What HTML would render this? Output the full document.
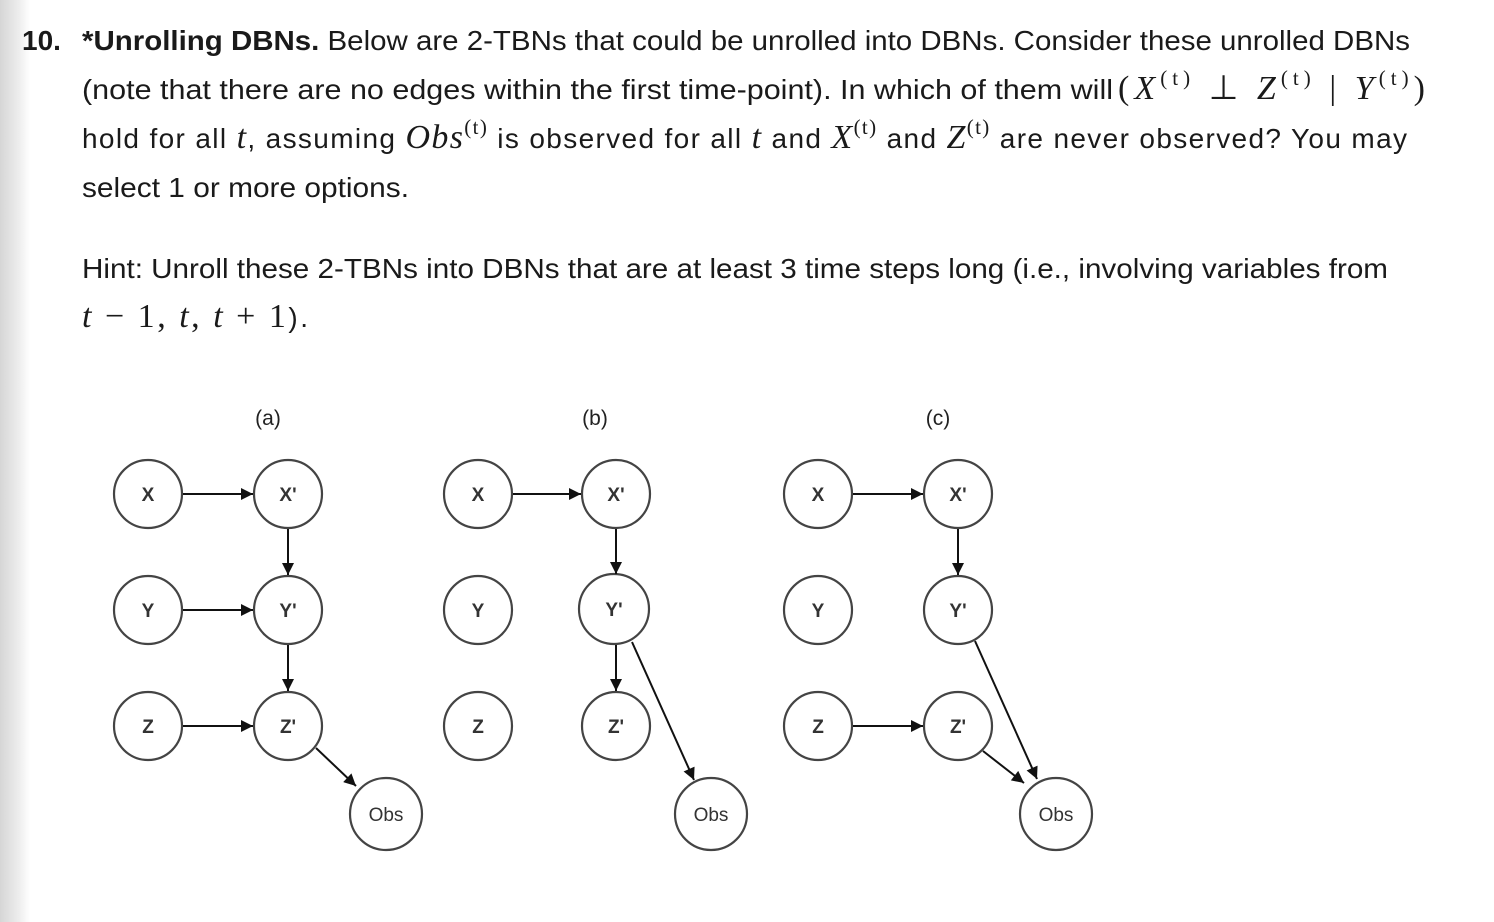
<!DOCTYPE html>
<html><head><meta charset="utf-8"><style>
html,body{margin:0;padding:0;background:#fff;}
svg{display:block}
</style></head><body>
<svg width="1494" height="922" viewBox="0 0 1494 922" xmlns="http://www.w3.org/2000/svg">
<defs>
<linearGradient id="lg" x1="0" x2="1" y1="0" y2="0">
<stop offset="0" stop-color="#d6d6d6"/><stop offset="0.6" stop-color="#ececec"/><stop offset="1" stop-color="#ffffff"/>
</linearGradient>
<marker id="ah" viewBox="0 0 10 10" refX="10" refY="5" markerWidth="7" markerHeight="6" orient="auto" markerUnits="strokeWidth">
<path d="M0,0 L10,5 L0,10 z" fill="#111"/>
</marker>
</defs>
<rect x="0" y="0" width="30" height="922" fill="url(#lg)"/>
<g font-family="Liberation Sans, sans-serif" font-size="28" fill="#1a1a1a">
<text x="22" y="50" font-weight="bold">10.</text>
<text x="82" y="50" textLength="1328" lengthAdjust="spacingAndGlyphs"><tspan font-weight="bold">*Unrolling DBNs.</tspan> Below are 2-TBNs that could be unrolled into DBNs. Consider these unrolled DBNs</text>
<text x="82" y="99" textLength="1031" lengthAdjust="spacingAndGlyphs">(note that there are no edges within the first time-point). In which of them will</text>
<text x="1118" y="99" font-family="Liberation Serif, serif" font-size="34" textLength="307" lengthAdjust="spacing">(<tspan font-style="italic">X</tspan><tspan font-size="21" dy="-14">(t)</tspan><tspan dy="14"> ⊥ </tspan><tspan font-style="italic">Z</tspan><tspan font-size="21" dy="-14">(t)</tspan><tspan dy="14"> | </tspan><tspan font-style="italic">Y</tspan><tspan font-size="21" dy="-14">(t)</tspan><tspan dy="14">)</tspan></text>
<text x="82" y="148" textLength="1325" lengthAdjust="spacing">hold for all <tspan font-family="Liberation Serif, serif" font-style="italic" font-size="34">t</tspan>, assuming <tspan font-family="Liberation Serif, serif" font-style="italic" font-size="34">Obs</tspan><tspan font-family="Liberation Serif, serif" font-size="21" dy="-14">(t)</tspan><tspan dy="14"> is observed for all </tspan><tspan font-family="Liberation Serif, serif" font-style="italic" font-size="34">t</tspan> and <tspan font-family="Liberation Serif, serif" font-style="italic" font-size="34">X</tspan><tspan font-family="Liberation Serif, serif" font-size="21" dy="-14">(t)</tspan><tspan dy="14"> and </tspan><tspan font-family="Liberation Serif, serif" font-style="italic" font-size="34">Z</tspan><tspan font-family="Liberation Serif, serif" font-size="21" dy="-14">(t)</tspan><tspan dy="14"> are never observed? You may</tspan></text>
<text x="82" y="197" textLength="327" lengthAdjust="spacingAndGlyphs">select 1 or more options.</text>
<text x="82" y="278" textLength="1306" lengthAdjust="spacingAndGlyphs">Hint: Unroll these 2-TBNs into DBNs that are at least 3 time steps long (i.e., involving variables from</text>
<text x="82" y="327" font-family="Liberation Serif, serif" font-size="34" textLength="226" lengthAdjust="spacing"><tspan font-style="italic">t</tspan> − 1, <tspan font-style="italic">t</tspan>, <tspan font-style="italic">t</tspan> + 1<tspan font-family="Liberation Sans, sans-serif" font-size="28">).</tspan></text>
</g>
<g font-family="Liberation Sans, sans-serif" font-size="21" fill="#222" text-anchor="middle">
<text x="268" y="425">(a)</text>
<text x="595" y="425">(b)</text>
<text x="938" y="425">(c)</text>
</g>
<g fill="#fff" stroke="#444" stroke-width="2.2">
<circle cx="148" cy="494" r="34"/><circle cx="288" cy="494" r="34"/>
<circle cx="148" cy="610" r="34"/><circle cx="288" cy="610" r="34"/>
<circle cx="148" cy="726" r="34"/><circle cx="288" cy="726" r="34"/>
<circle cx="386" cy="814" r="36"/>
<circle cx="478" cy="494" r="34"/><circle cx="616" cy="494" r="34"/>
<circle cx="478" cy="610" r="34"/><circle cx="614" cy="609" r="35"/>
<circle cx="478" cy="726" r="34"/><circle cx="616" cy="726" r="34"/>
<circle cx="711" cy="814" r="36"/>
<circle cx="818" cy="494" r="34"/><circle cx="958" cy="494" r="34"/>
<circle cx="818" cy="610" r="34"/><circle cx="958" cy="610" r="34"/>
<circle cx="818" cy="726" r="34"/><circle cx="958" cy="726" r="34"/>
<circle cx="1056" cy="814" r="36"/>
</g>
<g font-family="Liberation Sans, sans-serif" font-size="19" font-weight="bold" fill="#333" text-anchor="middle">
<text x="148" y="501">X</text><text x="288" y="501">X'</text>
<text x="148" y="617">Y</text><text x="288" y="617">Y'</text>
<text x="148" y="733">Z</text><text x="288" y="733">Z'</text>
<text x="386" y="821" font-weight="normal">Obs</text>
<text x="478" y="501">X</text><text x="616" y="501">X'</text>
<text x="478" y="617">Y</text><text x="614" y="616">Y'</text>
<text x="478" y="733">Z</text><text x="616" y="733">Z'</text>
<text x="711" y="821" font-weight="normal">Obs</text>
<text x="818" y="501">X</text><text x="958" y="501">X'</text>
<text x="818" y="617">Y</text><text x="958" y="617">Y'</text>
<text x="818" y="733">Z</text><text x="958" y="733">Z'</text>
<text x="1056" y="821" font-weight="normal">Obs</text>
</g>
<g stroke="#111" stroke-width="2" marker-end="url(#ah)" fill="none">
<line x1="183" y1="494" x2="253" y2="494"/>
<line x1="183" y1="610" x2="253" y2="610"/>
<line x1="183" y1="726" x2="253" y2="726"/>
<line x1="288" y1="529" x2="288" y2="575"/>
<line x1="288" y1="645" x2="288" y2="691"/>
<line x1="316" y1="748" x2="356" y2="786"/>
<line x1="513" y1="494" x2="581" y2="494"/>
<line x1="616" y1="529" x2="616" y2="574"/>
<line x1="616" y1="645" x2="616" y2="691"/>
<line x1="632" y1="642" x2="694" y2="780"/>
<line x1="853" y1="494" x2="923" y2="494"/>
<line x1="853" y1="726" x2="923" y2="726"/>
<line x1="958" y1="529" x2="958" y2="575"/>
<line x1="975" y1="641" x2="1037" y2="779"/>
<line x1="983" y1="751" x2="1024" y2="783"/>
</g>
</svg>
</body></html>
